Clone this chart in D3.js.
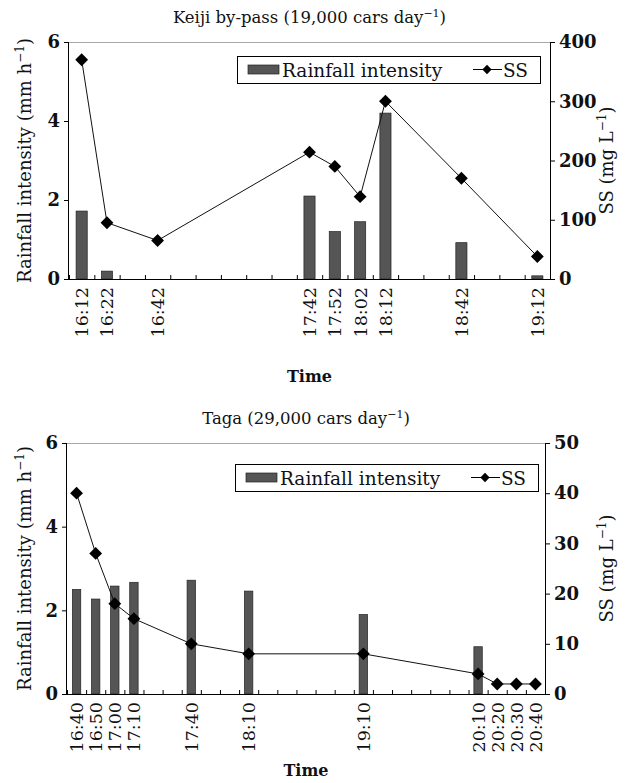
<!DOCTYPE html>
<html>
<head>
<meta charset="utf-8">
<script src="https://cdn.jsdelivr.net/npm/d3@7"></script>
<style>
  body { margin: 0; background: #fff; }
  svg text { font-family: "DejaVu Serif", serif; fill: #111; }
</style>
</head>
<body>
<div id="wrapper"></div>
<script>
// Keiji by-pass: 10-minute slots on the category axis
const keijiSlots = ["16:12", "16:22", "16:32", "16:42", "16:52", "17:02", "17:12", "17:22", "17:32", "17:42",
    "17:52", "18:02", "18:12", "18:22", "18:32", "18:42", "18:52", "19:02", "19:12"]
const keijiTimes = ["16:12", "16:22", "16:42", "17:42", "17:52", "18:02", "18:12", "18:42", "19:12"]
const keijiRain = [1.72, 0.2, 0, 2.1, 1.2, 1.45, 4.2, 0.92, 0.08]
const keijiSS = [370, 95, 65, 214, 190, 139, 300, 170, 38]
const keijiSSTicks = [0, 100, 200, 300, 400]

// Taga
const tagaSlots = ["16:40", "16:50", "17:00", "17:10", "17:20", "17:30", "17:40", "17:50", "18:00", "18:10",
    "18:20", "18:30", "18:40", "18:50", "19:00", "19:10", "19:20", "19:30", "19:40", "19:50",
    "20:00", "20:10", "20:20", "20:30", "20:40"]
const tagaTimes = ["16:40", "16:50", "17:00", "17:10", "17:40", "18:10", "19:10", "20:10", "20:20", "20:30", "20:40"]
const tagaRain = [2.5, 2.27, 2.58, 2.67, 2.72, 2.46, 1.9, 1.13, 0, 0, 0]
const tagaSS = [40, 28, 18, 15, 10, 8, 8, 4, 2, 2, 2]
const tagaSSTicks = [0, 10, 20, 30, 40, 50]

const rainTicks = [0, 2, 4, 6]

const svg = d3.select("#wrapper")
    .append("svg")
    .attr("width", 635)
    .attr("height", 783)

function drawPanel(opt) {
    const { slots, times, rain, ss, ssTicks, box, title, traffic, legend } = opt
    const data = times.map((t, i) => ({ time: t, rain: rain[i], ss: ss[i] }))

    const xScale = d3.scaleBand()
        .domain(slots)
        .range([box.left, box.right])
    const yRain = d3.scaleLinear()
        .domain([0, 6])
        .range([box.bottom, box.top])
    const ySS = d3.scaleLinear()
        .domain([0, d3.max(ssTicks)])
        .range([box.bottom, box.top])

    const g = svg.append("g")

    // title
    const t = g.append("text")
        .attr("x", (box.left + box.right) / 2)
        .attr("y", box.top - 19)
        .attr("text-anchor", "middle")
        .style("font-size", "16.5px")
    t.append("tspan").text(`${title} (${traffic} cars day`)
    t.append("tspan").attr("dy", -6).style("font-size", "11px").text("\u22121")
    t.append("tspan").attr("dy", 6).text(")")

    // top border of plot area
    g.append("line")
        .attr("x1", box.left).attr("x2", box.right)
        .attr("y1", box.top + 0.5).attr("y2", box.top + 0.5)
        .attr("stroke", "#a8a8a8")

    // bars
    const barW = xScale.bandwidth() * 0.44
    g.append("g").selectAll("rect")
        .data(data.filter(d => d.rain > 0))
        .join("rect")
        .attr("x", d => xScale(d.time) + (xScale.bandwidth() - barW) / 2)
        .attr("y", d => yRain(d.rain))
        .attr("width", barW)
        .attr("height", d => box.bottom - yRain(d.rain))
        .attr("fill", "#555")
        .attr("stroke", "#222")
        .attr("stroke-width", 0.7)

    // SS line
    const cx = d => xScale(d.time) + xScale.bandwidth() / 2
    g.append("path")
        .datum(data)
        .attr("fill", "none")
        .attr("stroke", "#111")
        .attr("stroke-width", 1)
        .attr("d", d3.line().x(cx).y(d => ySS(d.ss)))

    const diamond = d3.symbol().type(d3.symbolDiamond2).size(105)
    g.append("g").selectAll("path")
        .data(data)
        .join("path")
        .attr("transform", d => `translate(${cx(d)},${ySS(d.ss)})`)
        .attr("d", diamond)
        .attr("fill", "#000")

    // left axis
    const leftAxis = g.append("g")
        .attr("transform", `translate(${box.left},0)`)
        .call(d3.axisLeft(yRain).tickValues(rainTicks).tickFormat(d3.format("d")).tickSize(5).tickPadding(4))
    leftAxis.select(".domain").attr("d", `M-0.5,${box.top}V${box.bottom}`)
    leftAxis.selectAll("text")
        .style("font-size", "18px")
        .style("font-weight", "bold")
        .style("font-family", "DejaVu Serif")

    // right axis
    const rightAxis = g.append("g")
        .attr("transform", `translate(${box.right},0)`)
        .call(d3.axisRight(ySS).tickValues(ssTicks).tickFormat(d3.format("d")).tickSize(5).tickPadding(4))
    rightAxis.select(".domain").attr("d", `M0.5,${box.top}V${box.bottom}`)
    rightAxis.selectAll("text")
        .style("font-size", "18px")
        .style("font-weight", "bold")
        .style("font-family", "DejaVu Serif")

    // bottom axis: inward ticks at category boundaries
    const bottom = g.append("g")
    bottom.append("line")
        .attr("x1", box.left).attr("x2", box.right)
        .attr("y1", box.bottom + 0.5).attr("y2", box.bottom + 0.5)
        .attr("stroke", "#000")
    bottom.selectAll(".tick")
        .data(slots)
        .join("line")
        .attr("x1", d => xScale(d) + 0.5).attr("x2", d => xScale(d) + 0.5)
        .attr("y1", box.bottom).attr("y2", box.bottom - 4)
        .attr("stroke", "#000")
    bottom.selectAll("text")
        .data(times)
        .join("text")
        .attr("transform", d => `translate(${xScale(d) + xScale.bandwidth() / 2 + 6.5},${box.bottom + 8}) rotate(-90)`)
        .attr("text-anchor", "end")
        .style("font-size", "17.5px")
        .text(d => d)

    // axis titles
    const yl = g.append("text")
        .attr("transform", `translate(${opt.leftTitleX},${(box.top + box.bottom) / 2}) rotate(-90)`)
        .attr("text-anchor", "middle")
        .style("font-size", "18px")
    yl.append("tspan").text("Rainfall intensity (mm h")
    yl.append("tspan").attr("dy", -7).style("font-size", "12px").text("\u22121")
    yl.append("tspan").attr("dy", 7).text(")")

    const yr = g.append("text")
        .attr("transform", `translate(${opt.rightTitleX},${(box.top + box.bottom) / 2}) rotate(-90)`)
        .attr("text-anchor", "middle")
        .style("font-size", "18px")
    yr.append("tspan").text("SS (mg L")
    yr.append("tspan").attr("dy", -7).style("font-size", "12px").text("\u22121")
    yr.append("tspan").attr("dy", 7).text(")")

    g.append("text")
        .attr("x", (box.left + box.right) / 2)
        .attr("y", opt.timeY)
        .attr("text-anchor", "middle")
        .style("font-size", "16px")
        .style("font-weight", "bold")
        .text("Time")

    // legend
    const lg = g.append("g").attr("transform", `translate(${legend.x},${legend.y})`)
    lg.append("rect")
        .attr("x", 0.5).attr("y", 0.5)
        .attr("width", 303).attr("height", 27)
        .attr("fill", "#fff").attr("stroke", "#000")
    lg.append("rect")
        .attr("x", 11).attr("y", 9).attr("width", 31).attr("height", 9)
        .attr("fill", "#555").attr("stroke", "#222").attr("stroke-width", 0.7)
    lg.append("text")
        .attr("x", 45).attr("y", 20.5)
        .style("font-size", "18.5px")
        .text("Rainfall intensity")
    lg.append("line")
        .attr("x1", 236).attr("x2", 265).attr("y1", 13.5).attr("y2", 13.5)
        .attr("stroke", "#000")
    lg.append("path")
        .attr("transform", "translate(250,13.5)")
        .attr("d", d3.symbol().type(d3.symbolDiamond2).size(55))
        .attr("fill", "#000")
    lg.append("text")
        .attr("x", 266).attr("y", 20.5)
        .style("font-size", "18.5px")
        .text("SS")
}

drawPanel({
    slots: keijiSlots, times: keijiTimes, rain: keijiRain, ss: keijiSS, ssTicks: keijiSSTicks,
    box: { left: 69, right: 550, top: 42, bottom: 279 },
    title: "Keiji by-pass", traffic: "19,000",
    legend: { x: 237, y: 56 },
    leftTitleX: 31, rightTitleX: 613, timeY: 382
})

drawPanel({
    slots: tagaSlots, times: tagaTimes, rain: tagaRain, ss: tagaSS, ssTicks: tagaSSTicks,
    box: { left: 67, right: 545, top: 443, bottom: 694 },
    title: "Taga", traffic: "29,000",
    legend: { x: 235, y: 464 },
    leftTitleX: 31, rightTitleX: 613, timeY: 776
})
</script>
</body>
</html>
